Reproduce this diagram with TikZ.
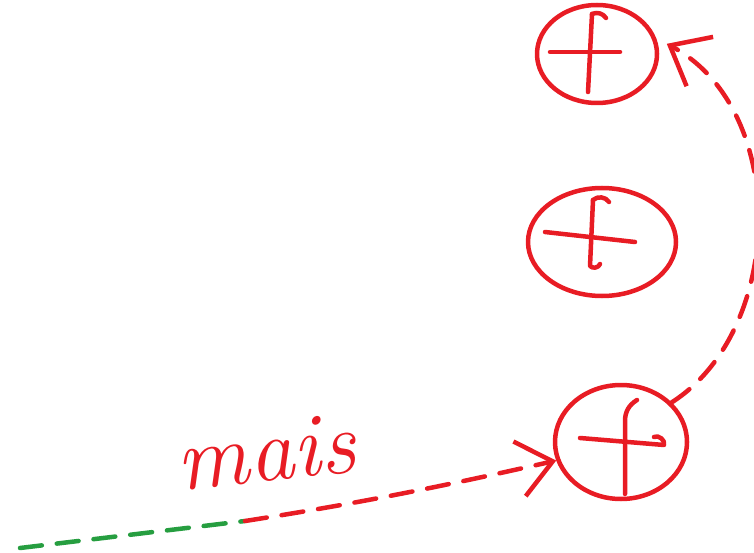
\documentclass[tikz,border=0pt]{standalone}
\usepackage{tikz}
\usetikzlibrary{positioning, arrows.meta, shapes.geometric}
\definecolor{penred}{RGB}{232, 28, 36}
\definecolor{pengreen}{RGB}{38, 158, 64}

\begin{document}
\begin{tikzpicture}[x=1pt, y=-1pt, line width=4.5pt, line cap=round, line join=round,
  state/.style={draw=penred, ellipse, inner sep=0pt},
  crossline/.style={penred},
  trail/.style={penred, dash pattern=on 22pt off 15pt},
  barb/.style={-{Straight Barb[length=34pt, width=56pt, line width=4.5pt]}}]
\useasboundingbox (0,0) rectangle (754,553);
\node[state, minimum width=120pt, minimum height=98pt] (top) at (597,54) {};
\node[state, minimum width=148pt, minimum height=108pt] (mid) at (602,242) {};
\node[state, minimum width=132pt, minimum height=114pt] (bot) at (621,442) {};
\draw[crossline] (top.center) ++(-47,-2) -- ++(70,0);
\draw[crossline] (top.center) ++(-5,-40) -- ++(-4,78);
\draw[crossline] (top.center) ++(-5,-40) to[bend left=40] ++(14,4);
\draw[crossline] (mid.center) ++(-57,-10) -- ++(90,10);
\draw[crossline] (mid.center) ++(-9,-42) -- ++(-3,66) to[bend right=60] ++(10,-2);
\draw[crossline] (mid.center) ++(-9,-42) to[bend left=50] ++(16,2);
\draw[crossline] (bot.center) ++(-41,-4) -- ++(84,7) to[bend right=70] ++(-10,-8);
\draw[crossline] (bot.center) ++(16,-42) to[bend right=30] ++(-12,22) -- ++(0,72);
\coordinate (g0) at (20,548);
\coordinate (g1) at (245,521);
\draw[pengreen, dash pattern=on 22pt off 15pt] (g0) -- (g1);
\draw[trail, barb] (g1) .. controls (380,500) and (470,480) .. (bot.196);
\draw[trail, barb, shorten >=12pt] (bot.38) .. controls (785,330) and (790,110) .. (top.15);
\node[penred, font=\fontsize{90}{90}\selectfont\itshape, rotate=6] (word) at (266,452) {mais};
\end{tikzpicture}
\end{document}
